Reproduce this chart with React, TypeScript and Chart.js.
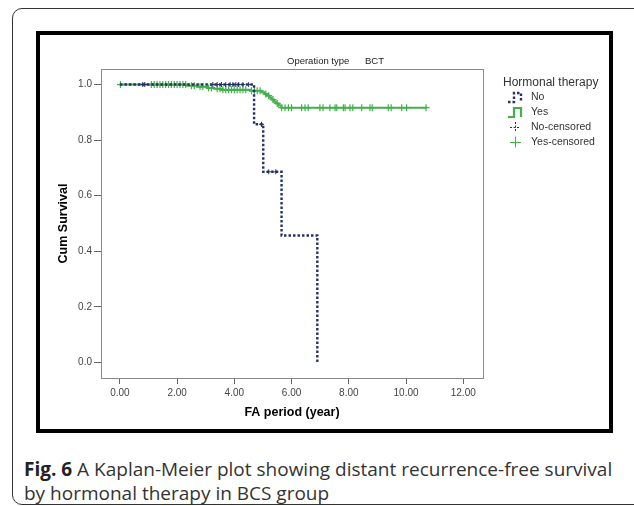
import React, { useEffect, useRef } from "react";
import { Chart, registerables } from "chart.js";

Chart.register(...registerables);

// ---- text ----
const chartTitleLeft = "Operation type";
const chartTitleRight = "BCT";
const legendTitle = "Hormonal therapy";
const legendLabels = ["No", "Yes", "No-censored", "Yes-censored"];
const xAxisTitle = "FA period (year)";
const yAxisTitle = "Cum Survival";

// ---- ticks ----
const xTickValues = [0, 2, 4, 6, 8, 10, 12];
const yTickValues = [0, 0.2, 0.4, 0.6, 0.8, 1.0];

// ---- "No" hormonal therapy (event steps) ----
const noEventTimes = [0, 4.69, 5.01, 5.65, 6.9];
const noSurvival = [1.0, 0.857, 0.686, 0.457, 0.0];
const noCensorTimes = [0.8, 0.87, 3.25, 3.4, 3.55, 3.7, 3.85, 3.95, 4.05, 4.15, 4.3, 4.5, 4.95, 5.2, 5.45];

// ---- "Yes" hormonal therapy (event steps) ----
const yesEventTimes = [0, 2.35, 2.7, 3.05, 3.3, 3.55, 4.55, 4.95, 5.05, 5.15, 5.22, 5.3, 5.38, 5.45, 5.55, 5.65, 10.72];
const yesSurvival = [1.0, 0.996, 0.992, 0.988, 0.985, 0.981, 0.978, 0.972, 0.966, 0.96, 0.953, 0.946, 0.939, 0.932, 0.925, 0.917, 0.917];
const yesCensorTimes = [
  0.02, 1.1, 1.2, 1.3, 1.4, 1.5, 1.6, 1.7, 1.8, 1.9, 2.0, 2.1, 2.2, 2.3, 2.5, 2.6, 2.8, 2.9, 3.1, 3.2,
  3.4, 3.5, 3.6, 3.7, 3.8, 3.9, 4.0, 4.1, 4.2, 4.3, 4.4, 4.6, 4.7, 4.8, 4.9, 5.1, 5.2, 5.35, 5.5,
  5.65, 5.77, 5.89, 6.0, 6.35, 6.47, 6.58, 6.99, 7.1, 7.34, 7.52, 7.58, 7.81, 7.87, 8.04, 8.14, 8.45,
  8.74, 8.82, 9.38, 9.48, 9.85, 10.02, 10.7,
];

const NAVY = "#26306b";
const GREEN = "#43b04a";

function survivalAt(times: number[], surv: number[], t: number) {
  let s = surv[0];
  for (let i = 0; i < times.length; i++) if (times[i] <= t) s = surv[i];
  return s;
}

const decorPlugin = {
  id: "decor",
  afterDraw(chart: any) {
    const ctx = chart.ctx as CanvasRenderingContext2D;
    const a = chart.chartArea;
    ctx.save();
    // plot frame
    ctx.strokeStyle = "#8a8a8a";
    ctx.lineWidth = 1;
    ctx.strokeRect(Math.round(a.left) + 0.5, Math.round(a.top) + 0.5, Math.round(a.right - a.left), Math.round(a.bottom - a.top));

    // title
    ctx.fillStyle = "#222";
    ctx.font = "9.5px 'Liberation Sans', Arial, sans-serif";
    ctx.textBaseline = "middle";
    ctx.textAlign = "left";
    ctx.fillText(chartTitleLeft, 247, 26);
    ctx.fillText(chartTitleRight, 325, 26);

    // axis titles
    ctx.font = "bold 12.5px 'Liberation Sans', Arial, sans-serif";
    ctx.fillStyle = "#000";
    ctx.textAlign = "center";
    ctx.fillText(xAxisTitle, (a.left + a.right) / 2, 378);
    ctx.save();
    ctx.translate(24, (a.top + a.bottom) / 2);
    ctx.rotate(-Math.PI / 2);
    ctx.fillText(yAxisTitle, 0, 0);
    ctx.restore();

    // legend
    ctx.textAlign = "left";
    ctx.font = "12px 'Liberation Sans', Arial, sans-serif";
    ctx.fillStyle = "#333";
    ctx.fillText(legendTitle, 463, 48);
    const rows = [62, 77, 92, 107];
    ctx.font = "10.5px 'Liberation Sans', Arial, sans-serif";
    legendLabels.forEach((lab, i) => ctx.fillText(lab, 491, rows[i]));

    const step = (y: number) => {
      ctx.beginPath();
      ctx.moveTo(468, y + 5);
      ctx.lineTo(474, y + 5);
      ctx.lineTo(474, y - 4);
      ctx.lineTo(481, y - 4);
      ctx.lineTo(481, y + 5);
      ctx.stroke();
    };
    ctx.strokeStyle = NAVY;
    ctx.lineWidth = 2.4;
    ctx.setLineDash([2.5, 2]);
    step(rows[0]);
    ctx.setLineDash([]);
    ctx.strokeStyle = GREEN;
    ctx.lineWidth = 2.2;
    step(rows[1]);
    ctx.lineWidth = 1;
    ctx.strokeStyle = NAVY;
    ctx.setLineDash([2, 1.5]);
    ctx.beginPath();
    ctx.moveTo(470, rows[2] + 0.5);
    ctx.lineTo(480, rows[2] + 0.5);
    ctx.moveTo(475.5, rows[2] - 5);
    ctx.lineTo(475.5, rows[2] + 5);
    ctx.stroke();
    ctx.setLineDash([]);
    ctx.strokeStyle = GREEN;
    ctx.beginPath();
    ctx.moveTo(470, rows[3] + 0.5);
    ctx.lineTo(481, rows[3] + 0.5);
    ctx.moveTo(475.5, rows[3] - 5.5);
    ctx.lineTo(475.5, rows[3] + 5.5);
    ctx.stroke();
    ctx.restore();
  },
};

function KMChart() {
  const ref = useRef<HTMLCanvasElement | null>(null);
  useEffect(() => {
    if (!ref.current) return;
    const noLine = noEventTimes.map((t, i) => ({ x: t, y: noSurvival[i] }));
    const yesLine = yesEventTimes.map((t, i) => ({ x: t, y: yesSurvival[i] }));
    const noCens = noCensorTimes.map((t) => ({ x: t, y: survivalAt(noEventTimes, noSurvival, t) }));
    const yesCens = yesCensorTimes.map((t) => ({ x: t, y: survivalAt(yesEventTimes, yesSurvival, t) }));
    const tickFont = { family: "'Liberation Sans', Arial, sans-serif", size: 10 };
    const chart = new Chart(ref.current, {
      type: "line",
      data: {
        datasets: [
          {
            label: "No-censored",
            data: noCens,
            showLine: false,
            pointStyle: "cross",
            pointRadius: 2.5,
            pointBorderWidth: 1,
            borderColor: NAVY,
            backgroundColor: NAVY,
          },
          {
            label: "No",
            data: noLine,
            stepped: "before",
            borderColor: NAVY,
            borderWidth: 2.4,
            borderDash: [2.5, 2],
            pointRadius: 0,
            fill: false,
          },
          {
            label: "Yes-censored",
            data: yesCens,
            showLine: false,
            pointStyle: "cross",
            pointRadius: 3.5,
            pointBorderWidth: 1.2,
            borderColor: GREEN,
            backgroundColor: GREEN,
          },
          {
            label: "Yes",
            data: yesLine,
            stepped: "before",
            borderColor: GREEN,
            borderWidth: 2,
            pointRadius: 0,
            fill: false,
          },
        ] as any,
      },
      options: {
        animation: false,
        responsive: false,
        devicePixelRatio: 1,
        parsing: false as any,
        layout: { padding: { top: 34, right: 126, left: 0, bottom: 0 } },
        plugins: { legend: { display: false }, tooltip: { enabled: false } },
        scales: {
          x: {
            type: "linear",
            min: -0.66,
            max: 12.69,
            afterBuildTicks: (s: any) => {
              s.ticks = xTickValues.map((v) => ({ value: v }));
            },
            afterFit: (s: any) => {
              s.height = 51;
            },
            ticks: {
              callback: (v: any) => Number(v).toFixed(2),
              font: tickFont,
              color: "#444",
              padding: 3,
              maxRotation: 0,
              autoSkip: false,
            },
            grid: { drawOnChartArea: false, drawTicks: true, tickLength: 6, color: "#666" },
            border: { display: false },
          },
          y: {
            type: "linear",
            min: -0.056,
            max: 1.056,
            afterBuildTicks: (s: any) => {
              s.ticks = yTickValues.map((v) => ({ value: v }));
            },
            afterFit: (s: any) => {
              s.width = 61;
            },
            ticks: {
              callback: (v: any) => Number(v).toFixed(1),
              font: tickFont,
              color: "#444",
              padding: 2,
              autoSkip: false,
            },
            grid: { drawOnChartArea: false, drawTicks: true, tickLength: 7, color: "#666" },
            border: { display: false },
          },
        },
      } as any,
      plugins: [decorPlugin],
    });
    return () => chart.destroy();
  }, []);
  return <canvas ref={ref} width={569} height={394} style={{ width: 569, height: 394, display: "block" }} />;
}

export default function App() {
  return (
    <div style={{ position: "absolute", left: 0, top: 0, width: 634, height: 506, overflow: "hidden", background: "#fff" }}>
      <div
        style={{
          position: "absolute",
          left: 12,
          top: 8,
          width: 640,
          height: 497,
          border: "1px solid #333",
          borderRadius: 10,
          boxSizing: "border-box",
        }}
      />
      <div
        style={{
          position: "absolute",
          left: 36,
          top: 31,
          width: 577,
          height: 402,
          border: "4px solid #000",
          boxSizing: "border-box",
          background: "#fff",
        }}
      >
        <KMChart />
      </div>
      <div
        style={{
          position: "absolute",
          left: 24,
          top: 457,
          width: 610,
          whiteSpace: "nowrap",
          fontFamily: "'Open Sans', 'Noto Sans', sans-serif",
          fontSize: 19,
          lineHeight: "24px",
          color: "#333",
        }}
      >
        <b style={{ color: "#222" }}>Fig. 6</b> A Kaplan-Meier plot showing distant recurrence-free survival
        <br />
        by hormonal therapy in BCS group
      </div>
    </div>
  );
}
